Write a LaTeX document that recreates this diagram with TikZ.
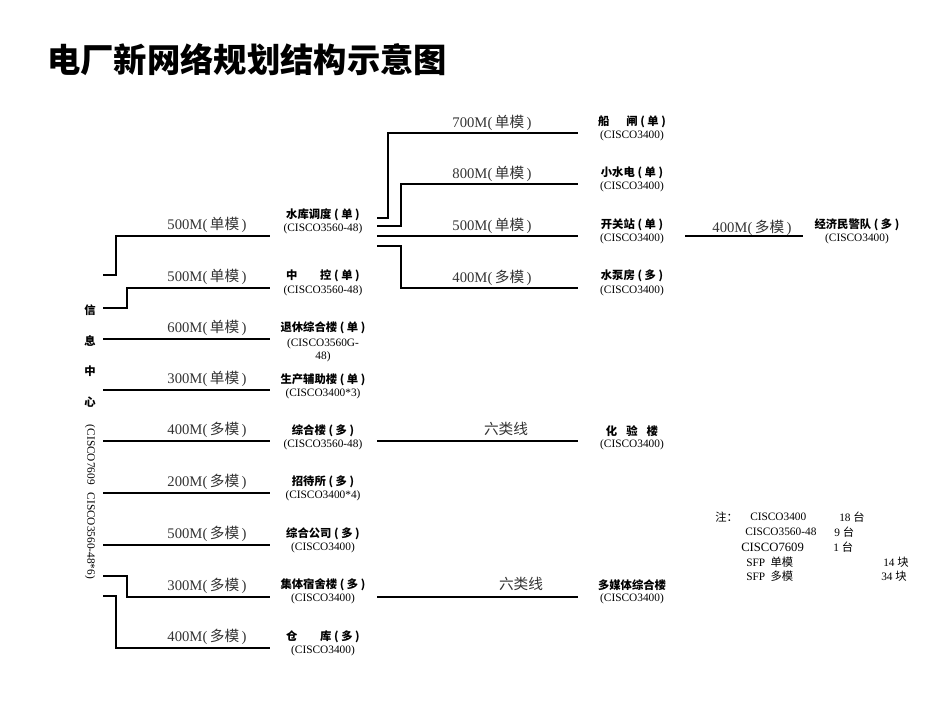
\documentclass[tikz,border=0pt]{standalone}
\usepackage{fontspec}
\setmainfont{Liberation Serif}
\newfontfamily\cjk{Noto Sans CJK SC}
\newcommand{\cb}[1]{{\cjk\bfseries #1}}
\newcommand{\cn}[1]{{\cjk #1}}
\begin{document}
\begin{tikzpicture}[x=0.75pt,y=-0.75pt,
  ln/.style={line width=0.8pt},
  bw/.style={font=\fontsize{11}{12}\selectfont, text=black!80, inner sep=0pt},
  nm/.style={font=\fontsize{8.5}{10}\selectfont\cjk\bfseries, inner sep=0pt},
  md/.style={font=\fontsize{8.5}{10}\selectfont, inner sep=0pt, align=center},
  nt/.style={font=\fontsize{8.5}{10}\selectfont, inner sep=0pt, anchor=west}]
\useasboundingbox (0,0) rectangle (950,713);
\node[anchor=west,inner sep=0pt,font=\fontsize{25}{28}\selectfont\cjk\bfseries] (title) at (47,60) {电厂新网络规划结构示意图};
% left vertical label
\foreach \c/\yy [count=\i] in {信/310,息/341,中/371,心/402}
  \node[nm] (v\i) at (90,\yy) {\c};
\node[md,rotate=-90] (vm) at (90,502) {(CISCO7609\hspace{6pt}CISCO3560-48*6)};
% left links
\coordinate (s1) at (103,275); \coordinate (s1b) at (116,275); \coordinate (s1c) at (116,236);
\draw[ln] (s1) -- (s1b) -- (s1c) -- (270,236);
\draw[ln] (103,308) -- (127,308) -- (127,288) -- (270,288);
\foreach \yy in {339,390,441,493,545} \draw[ln] (103,\yy) -- (270,\yy);
\draw[ln] (103,576) -- (127,576) -- (127,597) -- (270,597);
\draw[ln] (103,596) -- (116,596) -- (116,648) -- (270,648);
\foreach \yy/\sp/\t in {236/500M/单,288/500M/单,339/600M/单,390/300M/单,441/400M/多,493/200M/多,545/500M/多,597/300M/多,648/400M/多}
  \node[bw] at (207,\yy-11) {\sp(\,\cn{\t 模}\,)};
% left nodes
\node[nm] (n1) at (323,215) {水库调度 ( 单 )};
\node[md] (m1) at (323,229) {(CISCO3560-48)};
\node[nm] (n2) at (323,276) {中\hspace{2em}控 ( 单 )};
\node[md] (m2) at (323,291) {(CISCO3560-48)};
\node[nm] (n3) at (323,328) {退休综合楼 ( 单 )};
\node[md] (m3) at (323,350) {(CISCO3560G-\\48)};
\node[nm] (n4) at (323,380) {生产辅助楼 ( 单 )};
\node[md] (m4) at (323,394) {(CISCO3400*3)};
\node[nm] (n5) at (323,431) {综合楼 ( 多 )};
\node[md] (m5) at (323,445) {(CISCO3560-48)};
\node[nm] (n6) at (323,482) {招待所 ( 多 )};
\node[md] (m6) at (323,496) {(CISCO3400*4)};
\node[nm] (n7) at (323,534) {综合公司 ( 多 )};
\node[md] (m7) at (323,548) {(CISCO3400)};
\node[nm] (n8) at (323,585) {集体宿舍楼 ( 多 )};
\node[md] (m8) at (323,599) {(CISCO3400)};
\node[nm] (n9) at (323,637) {仓\hspace{2em}库 ( 多 )};
\node[md] (m9) at (323,651) {(CISCO3400)};
% middle links
\draw[ln] (377,218) -- (388,218) -- (388,133) -- (578,133);
\draw[ln] (377,226) -- (401,226) -- (401,184) -- (578,184);
\draw[ln] (377,236) -- (578,236);
\draw[ln] (377,246) -- (401,246) -- (401,288) -- (578,288);
\foreach \yy/\sp/\t in {133/700M/单,184/800M/单,236/500M/单,288/400M/多}
  \node[bw] at (492,\yy-10) {\sp(\,\cn{\t 模}\,)};
\draw[ln] (377,441) -- (578,441);
\node[bw] at (506,429) {\cn{六类线}};
\draw[ln] (377,597) -- (578,597);
\node[bw] at (521,584) {\cn{六类线}};
% right nodes
\node[nm] (r1) at (632,122) {船\hspace{1.5em}闸 ( 单 )};
\node[md] (q1) at (632,136) {(CISCO3400)};
\node[nm] (r2) at (632,173) {小水电 ( 单 )};
\node[md] (q2) at (632,187) {(CISCO3400)};
\node[nm] (r3) at (632,225) {开关站 ( 单 )};
\node[md] (q3) at (632,239) {(CISCO3400)};
\node[nm] (r4) at (632,276) {水泵房 ( 多 )};
\node[md] (q4) at (632,291) {(CISCO3400)};
\node[nm] (r5) at (632,431) {化\hspace{0.8em}验\hspace{0.8em}楼};
\node[md] (q5) at (632,445) {(CISCO3400)};
\node[nm] (r6) at (632,585) {多媒体综合楼};
\node[md] (q6) at (632,599) {(CISCO3400)};
\draw[ln] (685,236) -- (803,236);
\node[bw] at (752,228) {400M(\,\cn{多模}\,)};
\node[nm] (r7) at (857,225) {经济民警队 ( 多 )};
\node[md] (q7) at (857,239) {(CISCO3400)};
% notes
\node[nt] at (715,517) {\cn{注：}};
\node[nt] at (750,517) {CISCO3400};
\node[nt] at (839,517) {18 \cn{台}};
\node[nt] at (745,532) {CISCO3560-48};
\node[nt] at (834,532) {9 \cn{台}};
\node[nt,font=\fontsize{9.5}{10}\selectfont] at (741,547) {CISCO7609};
\node[nt] at (833,547) {1 \cn{台}};
\node[nt] at (746,562) {SFP\hspace{4pt}\cn{单模}};
\node[nt] at (883,562) {14 \cn{块}};
\node[nt] at (746,576) {SFP\hspace{4pt}\cn{多模}};
\node[nt] at (881,576) {34 \cn{块}};
\end{tikzpicture}
\end{document}
